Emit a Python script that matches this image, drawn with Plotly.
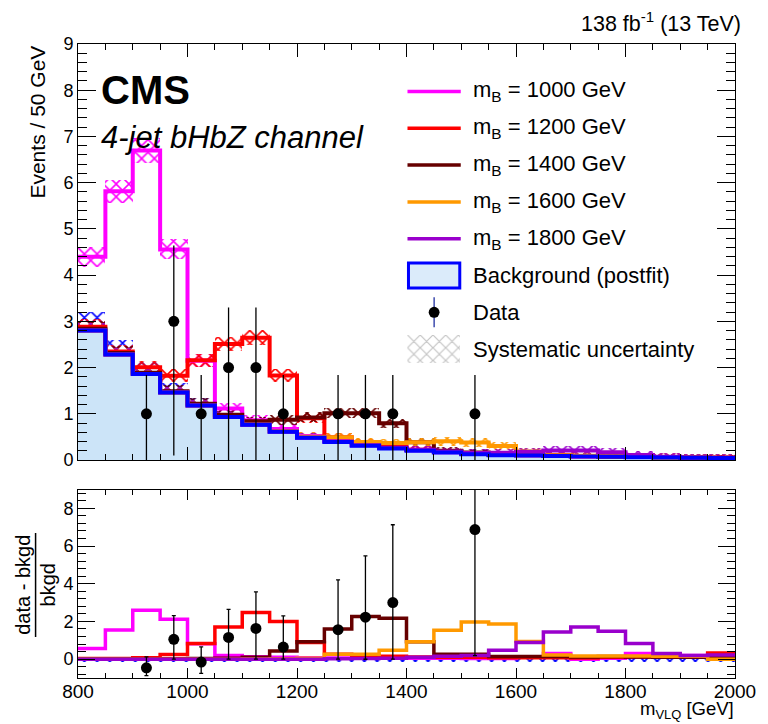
import plotly.graph_objects as go

# ---------------------------------------------------------------- data
bin_edges = list(range(800, 2001, 50))
bin_centers = [lo + 25 for lo in bin_edges[:-1]]

# postfit background, events per 50 GeV bin
background = [2.80, 2.28, 1.86, 1.46, 1.18, 0.93, 0.76, 0.61, 0.48, 0.39, 0.31, 0.25,
              0.20, 0.16, 0.127, 0.105, 0.095, 0.085, 0.077, 0.068, 0.060, 0.053, 0.047, 0.042]

# signal / background per bin for each B mass hypothesis
sig_over_bkg = {
    1000: [0.57, 1.55, 2.60, 2.12, 0.82, 0.20, 0.13, 0.10, 0.08, 0.06, 0.05, 0.05,
           0.05, 0.05, 0.04, 0.04, 0.10, 0.30, 0.00, 0.05, 0.30, 0.20, 0.20, 0.00],
    1200: [0.03, 0.03, 0.08, 0.25, 0.83, 1.70, 2.48, 2.00, 0.88, 0.26, 0.20, 0.15,
           0.12, 0.10, 0.10, 0.08, 0.08, 0.07, 0.06, 0.10, 0.12, 0.10, 0.10, 0.32],
    1400: [0.015, 0.015, 0.015, 0.02, 0.03, 0.05, 0.10, 0.43, 0.92, 1.60, 2.26, 2.17,
           0.92, 0.26, 0.26, 0.14, 0.14, 0.14, 0.12, 0.14, 0.12, 0.10, 0.10, 0.10],
    1600: [0.00, 0.00, 0.00, 0.00, 0.00, 0.00, 0.01, 0.02, 0.05, 0.26, 0.26, 0.47,
           0.92, 1.53, 1.97, 1.86, 0.94, 0.22, 0.17, 0.17, 0.17, 0.15, 0.15, 0.00],
    1800: [0.00, 0.00, 0.00, 0.00, 0.00, 0.00, 0.00, 0.00, 0.00, 0.02, 0.03, 0.05,
           0.10, 0.15, 0.20, 0.47, 0.88, 1.44, 1.70, 1.48, 0.83, 0.30, 0.20, 0.22],
}
masses = [1000, 1200, 1400, 1600, 1800]
signal_colors = {1000: "#ff00ff", 1200: "#ff0000", 1400: "#660000",
                 1600: "#ff9900", 1800: "#9900cc"}

# observed events
data_x = [925, 975, 1025, 1075, 1125, 1175, 1275, 1325, 1375, 1525]
data_n = [1, 3, 1, 2, 2, 1, 1, 1, 1, 1]
data_err_lo = [1.0, 2.9, 1.0, 2.0, 2.0, 1.0, 1.0, 1.0, 1.0, 1.0]
data_err_hi = [0.84, 1.64, 0.84, 1.30, 1.30, 0.84, 0.84, 0.84, 0.84, 0.84]
# uncertainties on (data - bkgd)/bkgd
ratio_err_lo = [0.41, 1.05, 0.60, 1.15, 1.63, 0.64, 1.56, 2.23, 3.00, 6.69]
ratio_err_hi = [0.58, 1.25, 0.80, 1.49, 1.94, 1.66, 2.64, 3.25, 4.13, 8.00]

BKG_SYST_REL = 0.14       # relative background systematic
SIG_SYST_REL = 0.03       # relative signal+background systematic
SIG_SYST_FLOOR = 0.08     # minimum half-width of signal band

BLUE = "#0000ff"
BKG_FILL = "#cce4f8"
FONT = "Liberation Sans, Arial, Helvetica, sans-serif"
HATCH = dict(shape="x", size=9, solidity=0.32, fillmode="replace")

# ---------------------------------------------------------------- page geometry (pixels)
W, H = 768, 724
L, R, T, B = 78, 24, 44, 46
PW, PH = W - L - R, H - T - B


def px(x):
    return (x - L) / PW


def py(y):
    return (H - B - y) / PH


def step_xy(values):
    return bin_edges, list(values) + [values[-1]]


fig = go.Figure()

# ---------------------------------------------------------------- upper panel
sx, sy = step_xy(background)
fig.add_trace(go.Scatter(x=sx, y=sy, mode="lines", line=dict(shape="hv", width=0),
                         fill="tozeroy", fillcolor=BKG_FILL, hoverinfo="skip",
                         xaxis="x", yaxis="y"))

totals = {m: [b * (1 + r) for b, r in zip(background, sig_over_bkg[m])] for m in masses}

# systematic hatch bands
bkg_half = [b * BKG_SYST_REL for b in background]
fig.add_trace(go.Bar(x=bin_centers, y=[2 * h for h in bkg_half],
                     base=[b - h for b, h in zip(background, bkg_half)], width=50,
                     marker=dict(color=BLUE, line=dict(width=0), pattern=HATCH),
                     xaxis="x", yaxis="y", hoverinfo="skip"))
for m in masses:
    tot = totals[m]
    half = [SIG_SYST_REL * t + SIG_SYST_FLOOR for t in tot]
    fig.add_trace(go.Bar(x=bin_centers, y=[2 * h for h in half],
                         base=[t - h for t, h in zip(tot, half)], width=50,
                         marker=dict(color=signal_colors[m], line=dict(width=0), pattern=HATCH),
                         xaxis="x", yaxis="y", hoverinfo="skip"))

# step lines: signal + background, background drawn last
for m in masses:
    sx, sy = step_xy(totals[m])
    fig.add_trace(go.Scatter(x=sx, y=sy, mode="lines",
                             line=dict(shape="hv", width=4, color=signal_colors[m]),
                             xaxis="x", yaxis="y"))
sx, sy = step_xy(background)
fig.add_trace(go.Scatter(x=sx, y=sy, mode="lines", line=dict(shape="hv", width=4, color=BLUE),
                         xaxis="x", yaxis="y"))

fig.add_trace(go.Scatter(x=data_x, y=data_n, mode="markers",
                         marker=dict(color="black", size=11),
                         error_y=dict(type="data", symmetric=False, array=data_err_hi,
                                      arrayminus=data_err_lo, color="black",
                                      thickness=1.3, width=0),
                         xaxis="x", yaxis="y"))

# ---------------------------------------------------------------- ratio panel
fig.add_trace(go.Bar(x=bin_centers, y=[2 * BKG_SYST_REL] * len(bin_centers),
                     base=[-BKG_SYST_REL] * len(bin_centers), width=50,
                     marker=dict(color=BLUE, line=dict(width=0), pattern=HATCH),
                     xaxis="x2", yaxis="y2", hoverinfo="skip"))
for m in masses:
    sx, sy = step_xy(sig_over_bkg[m])
    fig.add_trace(go.Scatter(x=sx, y=sy, mode="lines",
                             line=dict(shape="hv", width=3.5, color=signal_colors[m]),
                             xaxis="x2", yaxis="y2"))

data_bkg = [background[(x - 800) // 50] for x in data_x]
data_ratio = [(n - b) / b for n, b in zip(data_n, data_bkg)]
fig.add_trace(go.Scatter(x=data_x, y=data_ratio, mode="markers",
                         marker=dict(color="black", size=11),
                         error_y=dict(type="data", symmetric=False, array=ratio_err_hi,
                                      arrayminus=ratio_err_lo, color="black",
                                      thickness=1.3, width=2),
                         xaxis="x2", yaxis="y2"))

# ---------------------------------------------------------------- legend swatch (hatched box)
fig.add_trace(go.Bar(x=[0.5], y=[1], width=1,
                     marker=dict(color="#c4c4c4", line=dict(width=0),
                                 pattern=dict(shape="x", size=9, solidity=0.25,
                                              fillmode="replace")),
                     xaxis="x3", yaxis="y3", hoverinfo="skip"))

# ---------------------------------------------------------------- axes
axis_common = dict(showline=True, linecolor="black", linewidth=1, mirror="allticks",
                   ticks="inside", tickcolor="black", showgrid=False, zeroline=False,
                   tickfont=dict(family=FONT, size=18, color="black"))
top_dom = [py(460), 1.0]
bot_dom = [0.0, py(489.5)]

fig.update_layout(
    width=W, height=H, margin=dict(l=L, r=R, t=T, b=B),
    paper_bgcolor="white", plot_bgcolor="white", showlegend=False,
    barmode="overlay", bargap=0,
    font=dict(family=FONT, color="black"),
    xaxis=dict(axis_common, domain=[0, 1], anchor="y", range=[800, 2000],
               tick0=800, dtick=200, ticklen=13, showticklabels=False,
               minor=dict(dtick=50, ticklen=6, ticks="inside", tickcolor="black")),
    yaxis=dict(axis_common, domain=top_dom, anchor="x", range=[0, 9],
               tick0=0, dtick=1, ticklen=18,
               minor=dict(dtick=0.2, ticklen=9, ticks="inside", tickcolor="black")),
    xaxis2=dict(axis_common, domain=[0, 1], anchor="y2", range=[800, 2000], matches="x",
                tick0=800, dtick=200, ticklen=10, ticklabelstandoff=-4,
                tickfont=dict(family=FONT, size=19, color="black"),
                minor=dict(dtick=50, ticklen=5, ticks="inside", tickcolor="black")),
    yaxis2=dict(axis_common, domain=bot_dom, anchor="x2", range=[-1, 9],
                tick0=0, dtick=2, ticklen=17,
                minor=dict(dtick=0.4, ticklen=8, ticks="inside", tickcolor="black")),
    xaxis3=dict(domain=[px(412), px(466)], anchor="y3", range=[0, 1], visible=False,
                fixedrange=True),
    yaxis3=dict(domain=[py(363), py(335)], anchor="x3", range=[0, 1], visible=False,
                fixedrange=True),
)

# ---------------------------------------------------------------- texts
ann = []


def text(s, x, y, size, xanchor="left", angle=0):
    ann.append(dict(text=s, x=px(x), y=py(y), xref="paper", yref="paper",
                    xanchor=xanchor, yanchor="middle", showarrow=False, textangle=angle,
                    borderpad=0, font=dict(family=FONT, size=size, color="black")))


text("<b>CMS</b>", 100, 90, 40)
text("<i>4-jet bHbZ channel</i>", 100, 138, 31)
text("138 fb<sup>-1</sup> (13 TeV)", 751, 22, 21.5, xanchor="right")
text("Events / 50 GeV", 36, 122, 21, xanchor="center", angle=-90)
text("data - bkgd", 22, 585, 20, xanchor="center", angle=-90)
text("bkgd", 48, 585, 20, xanchor="center", angle=-90)
text("m<sub>VLQ</sub> [GeV]", 744, 710.5, 18.5, xanchor="right")

shapes = [dict(type="line", xref="paper", yref="paper", x0=px(35), x1=px(35),
               y0=py(533), y1=py(637), line=dict(color="black", width=1.5))]

# legend
row0, row_step = 91.5, 36.8
rows = [row0 + i * row_step for i in range(8)]
for i, m in enumerate(masses):
    shapes.append(dict(type="line", xref="paper", yref="paper", x0=px(412), x1=px(466),
                       y0=py(rows[i]), y1=py(rows[i]),
                       line=dict(color=signal_colors[m], width=3.5)))
    text(f"m<sub>B</sub> = {m} GeV", 477, rows[i], 22)
shapes.append(dict(type="rect", xref="paper", yref="paper", x0=px(413), x1=px(465),
                   y0=py(rows[5] - 12.5), y1=py(rows[5] + 12.5),
                   line=dict(color=BLUE, width=3), fillcolor="#dbebfa"))
text("Background (postfit)", 477, rows[5], 22)
shapes.append(dict(type="line", xref="paper", yref="paper", x0=px(439), x1=px(439),
                   y0=py(rows[6] - 15), y1=py(rows[6] + 15),
                   line=dict(color="#2030a0", width=1.3)))
shapes.append(dict(type="circle", xref="paper", yref="paper", x0=px(433.5), x1=px(444.5),
                   y0=py(rows[6] - 5.5), y1=py(rows[6] + 5.5),
                   line=dict(color="black", width=0), fillcolor="black"))
text("Data", 477, rows[6], 22)
text("Systematic uncertainty", 477, rows[7], 22)

fig.update_layout(annotations=ann, shapes=shapes)

fig.write_html("out.html")
